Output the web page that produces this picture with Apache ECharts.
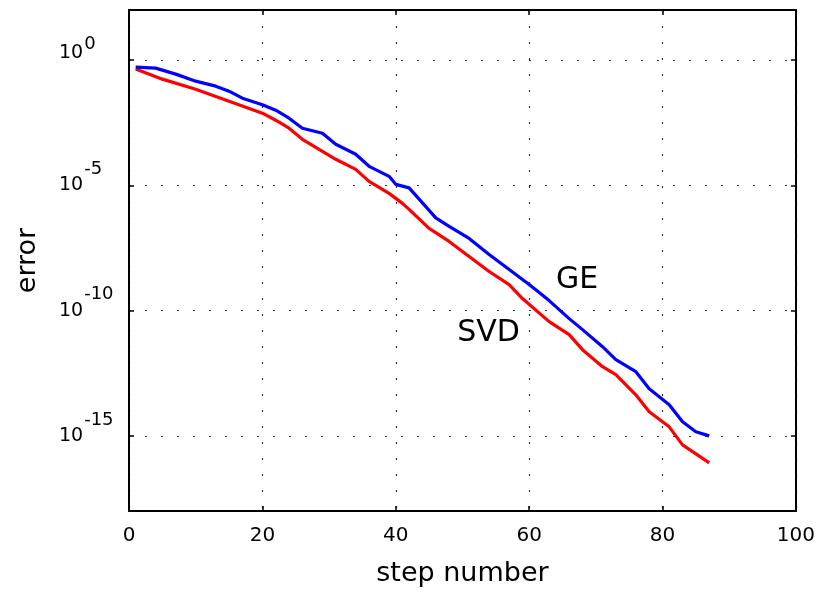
<!DOCTYPE html>
<html>
<head>
<meta charset="utf-8">
<script src="https://cdn.jsdelivr.net/npm/echarts@6/dist/echarts.min.js"></script>
<style>html,body{margin:0;padding:0;background:#fff}#c{width:818px;height:592px}</style>
</head>
<body>
<div id="c"></div>
<script>
// Step numbers and log10(error)
const geSteps = [1, 4, 7, 10, 13, 15, 17, 20, 22, 24, 26, 29, 31, 34, 36, 39, 40, 42, 44, 46, 48, 51, 54, 57, 60, 63, 66, 68, 71, 73, 76, 78, 81, 83, 85, 87];
const geLog10 = [-0.28, -0.32, -0.56, -0.84, -1.04, -1.24, -1.52, -1.78, -2.0, -2.32, -2.72, -2.92, -3.36, -3.76, -4.24, -4.64, -4.96, -5.1, -5.7, -6.3, -6.64, -7.12, -7.76, -8.36, -8.96, -9.6, -10.32, -10.76, -11.44, -11.96, -12.44, -13.12, -13.76, -14.44, -14.84, -15.0];
const svdSteps = [1, 5, 10, 15, 20, 22, 24, 26, 29, 31, 34, 36, 39, 41, 42, 45, 48, 51, 54, 57, 59, 63, 66, 68, 71, 73, 76, 78, 81, 83, 87];
const svdLog10 = [-0.36, -0.76, -1.16, -1.64, -2.12, -2.4, -2.72, -3.16, -3.64, -3.96, -4.36, -4.84, -5.32, -5.72, -5.96, -6.72, -7.24, -7.84, -8.44, -8.96, -9.52, -10.44, -10.96, -11.56, -12.24, -12.56, -13.36, -14.04, -14.64, -15.36, -16.08];
const xTicks = [0, 20, 40, 60, 80, 100];
const yTickValues = [1, 1e-5, 1e-10, 1e-15];
const labelGE = {name: 'GE', step: 67.2, log10: -8.8};
const labelSVD = {name: 'SVD', step: 53.9, log10: -10.92};

const FONT = 'DejaVu Sans';
const toPairs = (xs, ls) => xs.map((x, i) => [x, Math.pow(10, ls[i])]);

const dotted = {color: '#333', width: 1.2, type: [2, 14]};
const commonX = {
  type: 'value', min: xTicks[0], max: xTicks[xTicks.length - 1], interval: 20,
  axisLine: {show: true, onZero: false, lineStyle: {color: '#000', width: 2}},
  axisTick: {show: true, inside: true, length: 5, lineStyle: {color: '#000', width: 1.5}}
};
const commonY = {
  type: 'log', logBase: 10, min: 1e-18, max: 100,
  axisLine: {show: true, onZero: false, lineStyle: {color: '#000', width: 2}},
  axisTick: {show: true, inside: true, length: 5, customValues: yTickValues, lineStyle: {color: '#000', width: 1.5}}
};

const chart = echarts.init(document.getElementById('c'), null, {renderer: 'canvas'});
chart.setOption({
  animation: false,
  backgroundColor: '#fff',
  grid: {left: 129, right: 22, top: 10, bottom: 81, containLabel: false},
  xAxis: [
    Object.assign({}, commonX, {
      position: 'bottom',
      name: 'step number', nameLocation: 'middle', nameGap: 49,
      nameTextStyle: {fontFamily: FONT, fontSize: 27, color: '#000'},
      axisLabel: {show: true, margin: 15, fontFamily: FONT, fontSize: 20, color: '#000'},
      splitLine: {show: true, lineStyle: dotted}
    }),
    Object.assign({}, commonX, {
      position: 'top',
      axisLabel: {show: false},
      splitLine: {show: false}
    })
  ],
  yAxis: [
    Object.assign({}, commonY, {
      position: 'left',
      name: 'error', nameLocation: 'middle', nameGap: 88, nameRotate: 90,
      nameTextStyle: {fontFamily: FONT, fontSize: 27, color: '#000'},
      axisLabel: {
        show: true, customValues: yTickValues, align: 'left', margin: 70,
        formatter: function (v) {
          const e = Math.round(Math.log10(v));
          return e === 0 ? '{b0|10}{e0|' + e + '}' : '{b|10}{e|' + e + '}';
        },
        rich: {
          b: {fontFamily: FONT, fontSize: 19, color: '#000'},
          e: {fontFamily: FONT, fontSize: 18, color: '#000', padding: [0, 0, 32, 1]},
          b0: {fontFamily: FONT, fontSize: 19, color: '#000', padding: [0, 0, 14, 0]},
          e0: {fontFamily: FONT, fontSize: 18, color: '#000', padding: [0, 0, 32, 1]}
        }
      },
      splitLine: {show: true, customValues: yTickValues, lineStyle: dotted}
    }),
    Object.assign({}, commonY, {
      position: 'right',
      axisLabel: {show: false},
      splitLine: {show: false}
    })
  ],
  series: [
    {
      name: 'GE', type: 'line', xAxisIndex: 0, yAxisIndex: 0,
      data: toPairs(geSteps, geLog10), showSymbol: false, symbol: 'none',
      lineStyle: {color: '#0000ff', width: 3.2}, z: 3,
      markPoint: {
        symbol: 'circle', symbolSize: 0,
        label: {show: true, position: 'inside', formatter: '{b}', fontFamily: FONT, fontSize: 30, color: '#000'},
        data: [{name: labelGE.name, coord: [labelGE.step, Math.pow(10, labelGE.log10)]}]
      }
    },
    {
      name: 'SVD', type: 'line', xAxisIndex: 0, yAxisIndex: 0,
      data: toPairs(svdSteps, svdLog10), showSymbol: false, symbol: 'none',
      lineStyle: {color: '#ff0000', width: 3.2}, z: 2,
      markPoint: {
        symbol: 'circle', symbolSize: 0,
        label: {show: true, position: 'inside', formatter: '{b}', fontFamily: FONT, fontSize: 30, color: '#000'},
        data: [{name: labelSVD.name, coord: [labelSVD.step, Math.pow(10, labelSVD.log10)]}]
      }
    }
  ]
});
</script>
</body>
</html>
